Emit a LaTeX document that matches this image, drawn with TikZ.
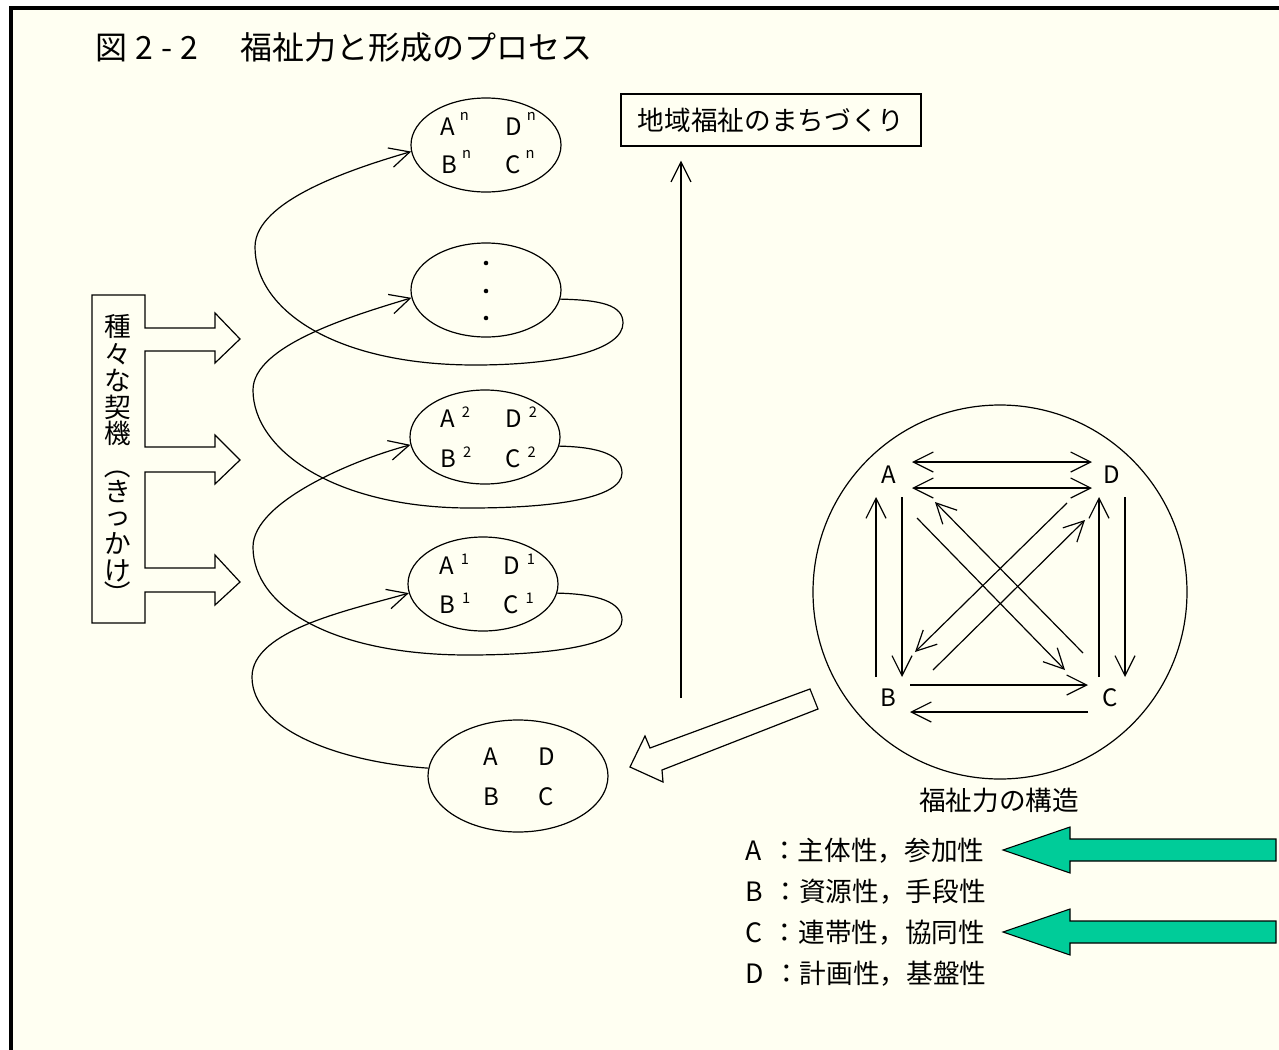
\documentclass[tikz,border=0pt]{standalone}
\usepackage{fontspec}
\setmainfont{Noto Sans CJK JP}
\usetikzlibrary{arrows.meta,calc,shapes.geometric}
\definecolor{paper}{RGB}{255,255,242}
\definecolor{garrow}{RGB}{0,204,153}
\newcommand\supx[3]{\hspace{#3}\raisebox{#2}{\fontsize{11}{11}\selectfont #1}}
\newcommand\vparen[1]{\smash{\makebox[0pt]{\rotatebox[origin=c]{-90}{#1}}}}
\begin{document}
\begin{tikzpicture}[x=0.75pt,y=-0.75pt,line width=0.9pt,
  >={Straight Barb[length=15pt,width=15pt]},
  ell/.style={draw,ellipse,minimum width=112.5pt,minimum height=70.5pt,inner sep=0pt},
  lt/.style={anchor=base west,inner sep=0pt,font=\fontsize{18}{18}\selectfont},
  lab/.style={inner sep=0pt,font=\fontsize{18}{18}\selectfont},
  vch/.style={inner sep=0pt,font=\fontsize{20}{20}\selectfont,text height=17.6pt,text depth=2.4pt},
  vpar/.style={inner sep=0pt,font=\fontsize{20}{20}\selectfont},
  leg/.style={anchor=base west,inner sep=0pt,font=\fontsize{20}{20}\selectfont},
  dotn/.style={circle,fill,inner sep=0pt,minimum size=3.4pt},
  blk/.style={line width=0.9pt,line join=miter}
]
\useasboundingbox (0,0) rectangle (1279,1050);
\fill[white] (0,0) rectangle (1279,1050);
\fill[paper] (11,8) rectangle (1279,1050);
\draw[line width=2.3pt] (11,1052) -- (11,8) -- (1281,8);

% title
\node[anchor=base west,inner sep=0pt,font=\fontsize{24}{24}\selectfont] (title) at (95,59)
  {図\hspace{6pt}2\hspace{6pt}-\hspace{6pt}2\hspace{32pt}福祉力と形成のプロセス};

% goal box
\node[draw,minimum width=225pt,minimum height=39pt,inner sep=0pt,font=\fontsize{20}{20}\selectfont] (goal) at (771,120) {地域福祉のまちづくり};
\coordinate (upbase) at (681,698);
\draw[->,shorten >=10.5pt] (upbase) -- (upbase |- goal.south);

% ellipses
\node[ell] (en) at (486,145) {};
\node[ell] (edots) at (486,290) {};
\node[ell] (e2) at (485,437) {};
\node[ell] (e1) at (483,584) {};
\node[ell,minimum width=135pt,minimum height=84pt] (e0) at (518,776) {};

% ellipse contents
\node[lt] (anA) at (440,135) {A\supx{n}{11pt}{3.5pt}};
\node[lt] (anD) at (505,135) {D\supx{n}{11pt}{3.5pt}};
\node[lt] (anB) at (441,173) {B\supx{n}{11pt}{3.5pt}};
\node[lt] (anC) at (505,173) {C\supx{n}{11pt}{3.5pt}};

\node[dotn] (dot1) at (486,263) {};
\node[dotn] (dot2) at (486,291) {};
\node[dotn] (dot3) at (486,318) {};

\node[lt] (a2A) at (440,427) {A\supx{2}{7pt}{5pt}};
\node[lt] (a2D) at (505,427) {D\supx{2}{7pt}{5pt}};
\node[lt] (a2B) at (440,467) {B\supx{2}{7pt}{5pt}};
\node[lt] (a2C) at (505,467) {C\supx{2}{7pt}{5pt}};

\node[lt] (a1A) at (439,574) {A\supx{1}{7pt}{5pt}};
\node[lt] (a1D) at (503,574) {D\supx{1}{7pt}{5pt}};
\node[lt] (a1B) at (439,613) {B\supx{1}{7pt}{5pt}};
\node[lt] (a1C) at (503,613) {C\supx{1}{7pt}{5pt}};

\node[lt] (a0A) at (483,765) {A};
\node[lt] (a0D) at (538,765) {D};
\node[lt] (a0B) at (483,805) {B};
\node[lt] (a0C) at (538,805) {C};

% spiral
\draw[->] (e0.175) .. controls (340,762) and (252,730) .. (252,677)
  .. controls (252,630) and (350,610) .. (e1.187);
\draw[->] (e1.-7) .. controls (598,594) and (622,602) .. (622,620)
  .. controls (622,645) and (553,655) .. (468,655)
  .. controls (333,655) and (253,607) .. (253,547)
  .. controls (253,502) and (353,460) .. (e2.186);
\draw[->] (e2.-7) .. controls (600,447) and (622,455) .. (622,473)
  .. controls (622,498) and (555,508) .. (470,508)
  .. controls (335,508) and (253,450) .. (253,390)
  .. controls (253,345) and (355,315) .. (edots.186);
\draw[->] (edots.-7) .. controls (601,300) and (623,305) .. (623,323)
  .. controls (623,350) and (560,365) .. (475,365)
  .. controls (335,365) and (255,310) .. (255,247)
  .. controls (255,200) and (355,168) .. (en.185);

% left bracket with block arrows
\draw[blk] (92,295) -- (145,295) -- (145,328) -- (215,328) -- (215,313) -- (240,339)
  -- (215,363) -- (215,351) -- (145,351) -- (145,447) -- (215,447) -- (215,435)
  -- (240,460) -- (215,484) -- (215,472) -- (145,472) -- (145,568) -- (215,568)
  -- (215,555) -- (240,582) -- (215,605) -- (215,592) -- (145,592) -- (145,623)
  -- (92,623) -- cycle;
\node[vch] (v1) at (118,326) {種};
\node[vch] (v2) at (118,354) {々};
\node[vch] (v3) at (118,380) {な};
\node[vch] (v4) at (118,407) {契};
\node[vch] (v5) at (118,433) {機};
\node[vpar] (v6) at (118,476) {\vparen{（}};
\node[vch] (v7) at (118,491) {き};
\node[vch] (v8) at (118,515) {っ};
\node[vch] (v9) at (118,543) {か};
\node[vch] (v10) at (118,570) {け};
\node[vpar] (v11) at (118,604) {\vparen{）}};

% structure circle
\node[draw,circle,minimum size=280.5pt,inner sep=0pt] (struct) at (1000,592) {};
\node[lab] (A) at (889,475) {A};
\node[lab] (D) at (1112,475) {D};
\node[lab] (B) at (888,698) {B};
\node[lab] (C) at (1110,698) {C};
\draw[<->] ($(A)+(23,-13)$) -- ($(D)+(-20,-13)$);
\draw[<->] ($(A)+(23,13)$) -- ($(D)+(-20,13)$);
\draw[->] ($(B)+(-12,-21)$) -- ($(A)+(-13,22)$);
\draw[->] ($(A)+(13,22)$) -- ($(B)+(14,-21)$);
\draw[->] ($(C)+(-11,-21)$) -- ($(D)+(-13,22)$);
\draw[->] ($(D)+(13,22)$) -- ($(C)+(15,-21)$);
\draw[->] ($(B)+(22,-13)$) -- ($(C)+(-22,-13)$);
\draw[->] ($(C)+(-22,14)$) -- ($(B)+(22,14)$);
\draw[->] ($(A)+(28,43)$) -- ($(C)+(-45,-28)$);
\draw[->] ($(C)+(-27,-45)$) -- ($(A)+(46,27)$);
\draw[->] ($(D)+(-45,28)$) -- ($(B)+(27,-46)$);
\draw[->] ($(B)+(45,-28)$) -- ($(D)+(-27,45)$);

% hollow block arrow towards the first ellipse
\draw[blk] (810,689) -- (818,709) -- (662,770) -- (663,782) -- (630,767) -- (645,736) -- (650,748) -- cycle;

% legend
\node[anchor=base,inner sep=0pt,font=\fontsize{20}{20}\selectfont] (legtitle) at (999,810) {福祉力の構造};
\node[leg] (legA) at (745,860) {A\hspace{7pt}：主体性，参加性};
\node[leg] (legB) at (745,901) {B\hspace{7pt}：資源性，手段性};
\node[leg] (legC) at (745,942) {C\hspace{7pt}：連帯性，協同性};
\node[leg] (legD) at (745,983) {D\hspace{7pt}：計画性，基盤性};

% green arrows
\draw[fill=garrow,line width=0.8pt] (1003,850) -- (1070,827) -- (1070,839) -- (1276,839) -- (1276,861) -- (1070,861) -- (1070,873) -- cycle;
\draw[fill=garrow,line width=0.8pt] (1003,932) -- (1070,909) -- (1070,921) -- (1276,921) -- (1276,943) -- (1070,943) -- (1070,955) -- cycle;
\end{tikzpicture}
\end{document}
